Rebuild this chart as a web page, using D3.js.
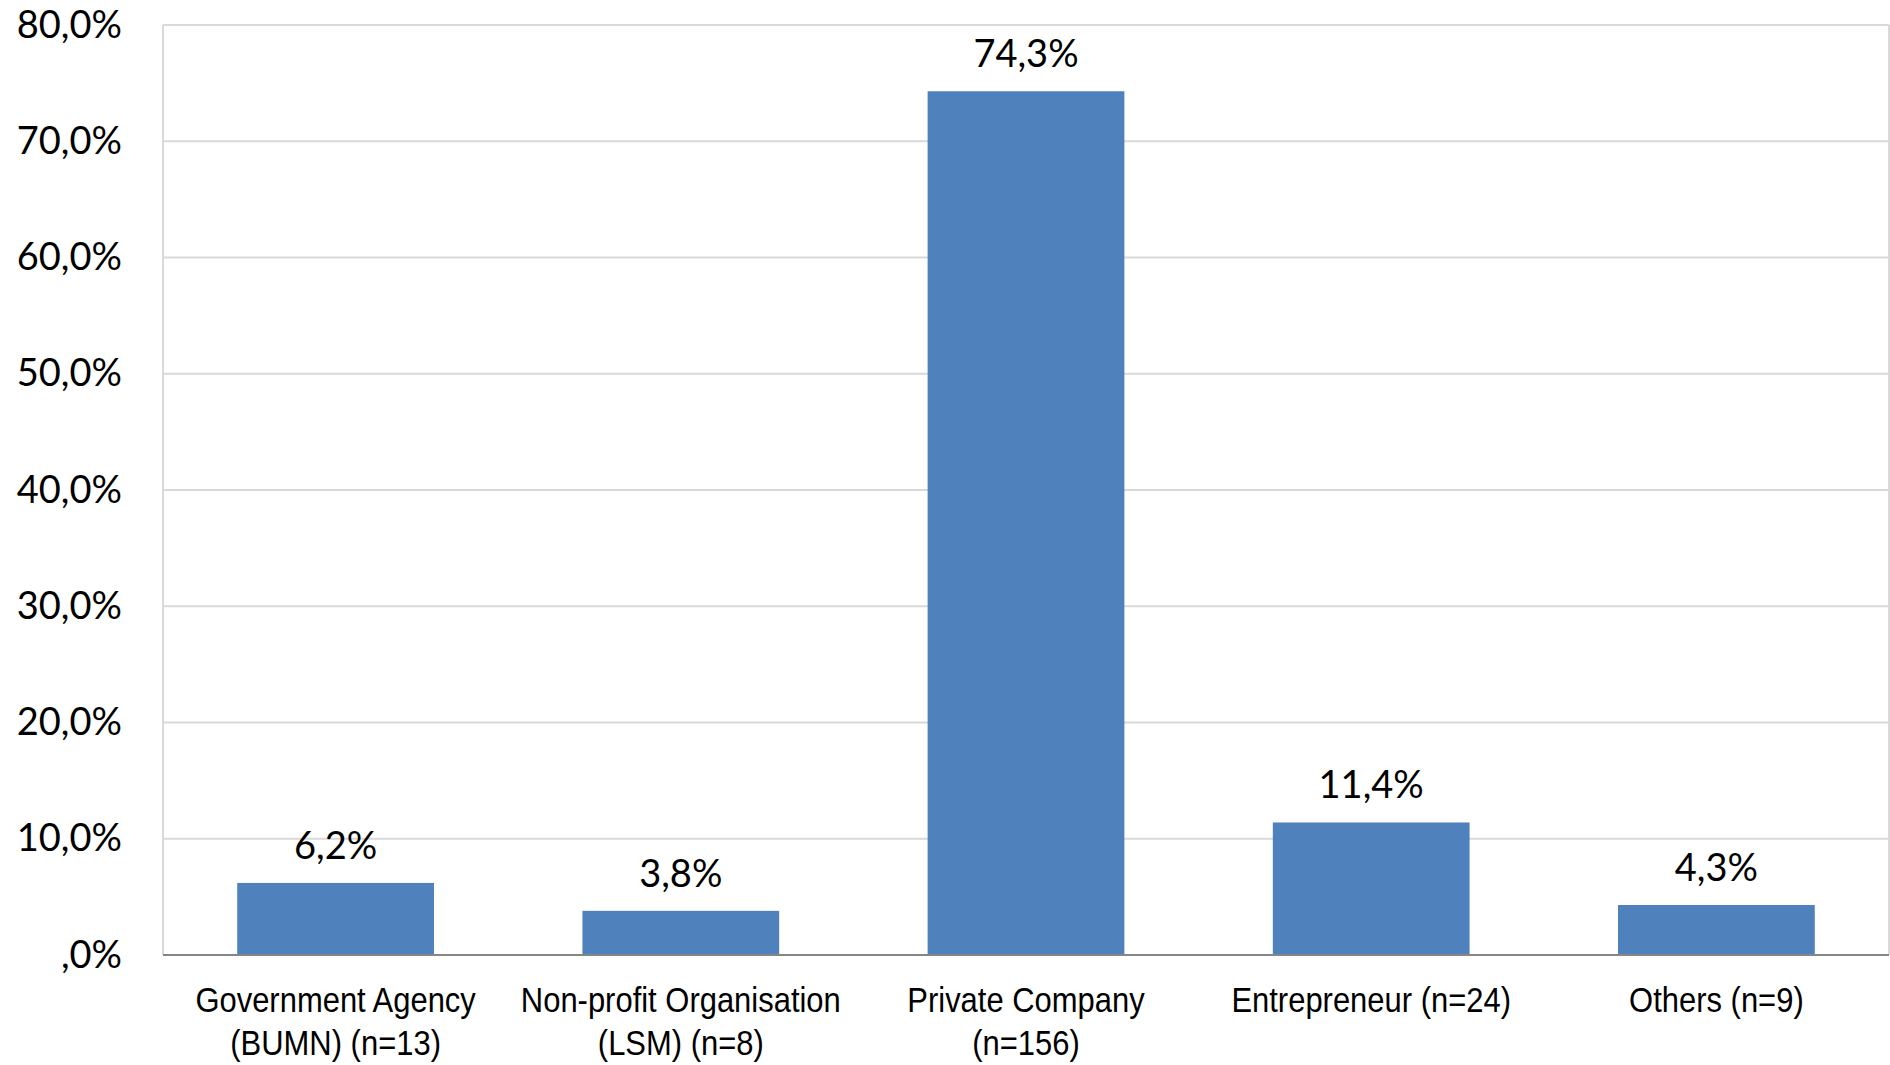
<!DOCTYPE html>
<html>
<head>
<meta charset="utf-8">
<script src="https://cdn.jsdelivr.net/npm/d3@7"></script>
<style>
  html, body { margin: 0; padding: 0; background: #fff; }
  svg { display: block; }
</style>
</head>
<body>
<svg id="chart" width="1890" height="1065"></svg>
<script>
// Respondents by employer type (share of total, %)
const categories = [
  ["Government Agency", "(BUMN) (n=13)"],
  ["Non-profit Organisation", "(LSM) (n=8)"],
  ["Private Company", "(n=156)"],
  ["Entrepreneur (n=24)"],
  ["Others (n=9)"]
];
const values = [6.2, 3.8, 74.3, 11.4, 4.3];
const yTicks = [0, 10, 20, 30, 40, 50, 60, 70, 80];

const W = 1890, H = 1065;
const margin = { top: 25, right: 1, bottom: 110, left: 163 };
const svg = d3.select("#chart");

const x = d3.scaleBand()
  .domain(d3.range(categories.length))
  .range([margin.left, W - margin.right])
  .paddingInner(0.43)
  .paddingOuter(0.215);

const y = d3.scaleLinear()
  .domain([0, 80])
  .range([H - margin.bottom, margin.top]);

const fmt = v => (v === 0 ? "" : Math.floor(v)) + "," + (Math.round(v * 10) % 10) + "%";

// gridlines
svg.append("g")
  .selectAll("line")
  .data(yTicks.filter(t => t > 0))
  .join("line")
  .attr("x1", margin.left).attr("x2", W - margin.right)
  .attr("y1", d => y(d)).attr("y2", d => y(d))
  .attr("stroke", "#d9d9d9").attr("stroke-width", 2);

// plot frame sides
svg.append("line")
  .attr("x1", margin.left).attr("x2", margin.left)
  .attr("y1", y(80)).attr("y2", y(0))
  .attr("stroke", "#d9d9d9").attr("stroke-width", 2);
svg.append("line")
  .attr("x1", W - margin.right).attr("x2", W - margin.right)
  .attr("y1", y(80)).attr("y2", y(0))
  .attr("stroke", "#d9d9d9").attr("stroke-width", 2);

// y axis labels
const yAxis = d3.axisLeft(y).tickValues(yTicks).tickFormat(fmt).tickSize(0).tickPadding(41);
svg.append("g")
  .attr("transform", `translate(${margin.left},0)`)
  .call(yAxis)
  .call(g => g.select(".domain").remove())
  .call(g => g.selectAll("text")
    .attr("font-family", "Lato, 'Open Sans', sans-serif")
    .attr("font-size", 38)
    .attr("fill", "#000"));

// bars
svg.append("g")
  .selectAll("rect")
  .data(values)
  .join("rect")
  .attr("x", (d, i) => x(i))
  .attr("width", x.bandwidth())
  .attr("y", d => y(d))
  .attr("height", d => y(0) - y(d))
  .attr("fill", "#4f81bd");

// value labels
svg.append("g")
  .selectAll("text")
  .data(values)
  .join("text")
  .attr("x", (d, i) => x(i) + x.bandwidth() / 2)
  .attr("y", d => y(d) - 24)
  .attr("text-anchor", "middle")
  .attr("font-family", "Lato, 'Open Sans', sans-serif")
  .attr("font-size", 38)
  .attr("fill", "#000")
  .text(d => fmt(d));

// baseline
svg.append("line")
  .attr("x1", margin.left).attr("x2", W - margin.right)
  .attr("y1", y(0)).attr("y2", y(0))
  .attr("stroke", "#868686").attr("stroke-width", 2);

// category labels (narrow sans, compressed horizontally)
const labels = svg.append("g")
  .selectAll("g")
  .data(categories)
  .join("g")
  .attr("transform", (d, i) => `translate(${x(i) + x.bandwidth() / 2},${y(0) + 57}) scale(0.86,1)`);

labels.append("text")
  .attr("text-anchor", "middle")
  .attr("font-family", "'Liberation Sans', Arial, sans-serif")
  .attr("font-size", 36)
  .attr("fill", "#000")
  .selectAll("tspan")
  .data(d => d)
  .join("tspan")
  .attr("x", 0)
  .attr("dy", (t, j) => j === 0 ? 0 : 43)
  .text(t => t);
</script>
</body>
</html>
